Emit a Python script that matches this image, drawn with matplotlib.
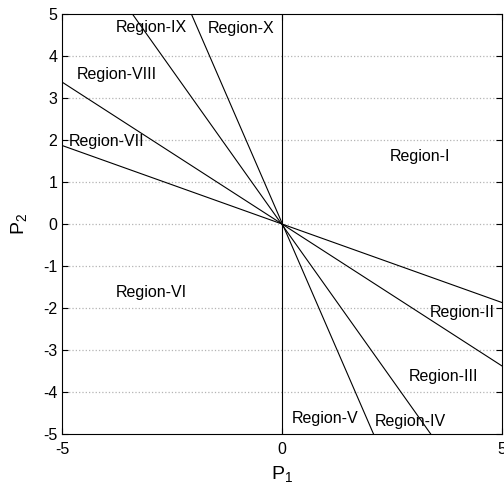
import matplotlib
matplotlib.use('Agg')
import matplotlib.pyplot as plt
import numpy as np

plt.rcParams['font.family'] = ['Liberation Sans', 'DejaVu Sans']
plt.rcParams['axes.unicode_minus'] = False
plt.rcParams['mathtext.default'] = 'regular'

# boundary lines through the origin, given by their end points
line_x0 = [-5.0, -5.0, -3.40, -2.06]
line_y0 = [1.87, 3.38, 5.0, 5.0]
line_x1 = [5.0, 5.0, 3.38, 2.08]
line_y1 = [-1.87, -3.38, -5.0, -5.0]

# region labels
region_names = ['Region-I', 'Region-II', 'Region-III', 'Region-IV', 'Region-V',
                'Region-VI', 'Region-VII', 'Region-VIII', 'Region-IX', 'Region-X']
region_x = [3.13, 4.09, 3.68, 2.91, 0.98, -2.97, -3.98, -3.75, -2.98, -0.93]
region_y = [1.6, -2.1, -3.62, -4.7, -4.64, -1.62, 1.96, 3.55, 4.67, 4.65]

xticks = [-5, 0, 5]
yticks = list(range(-5, 6))

fig = plt.figure(figsize=(5.04, 4.92), dpi=100)
ax = fig.add_axes([62/504, 1 - 434/492, 440/504, 420/492])

# light dotted grid on the y ticks only
for yv in yticks[1:-1]:
    ax.axhline(yv, color='#b4b4b4', lw=0.9, ls=':', zorder=0)

ax.axvline(0, color='black', lw=0.8)
for i in range(len(line_x0)):
    ax.plot([line_x0[i], line_x1[i]], [line_y0[i], line_y1[i]], color='black', lw=0.8)

for name, xv, yv in zip(region_names, region_x, region_y):
    ax.text(xv, yv, name, ha='center', va='center', fontsize=11.5)

ax.set_xlim(-5, 5)
ax.set_ylim(-5, 5)
ax.set_xticks(xticks)
ax.set_yticks(yticks)
ax.tick_params(direction='in', top=True, right=True, labelsize=11.5, length=4, width=0.8)
ax.tick_params(axis='x', pad=6)
for s in ax.spines.values():
    s.set_linewidth(0.8)
ax.set_xlabel('P$_1$', fontsize=14, labelpad=5)
ax.set_ylabel('P$_2$', fontsize=14, labelpad=10)

fig.savefig('out.png', dpi=100)
